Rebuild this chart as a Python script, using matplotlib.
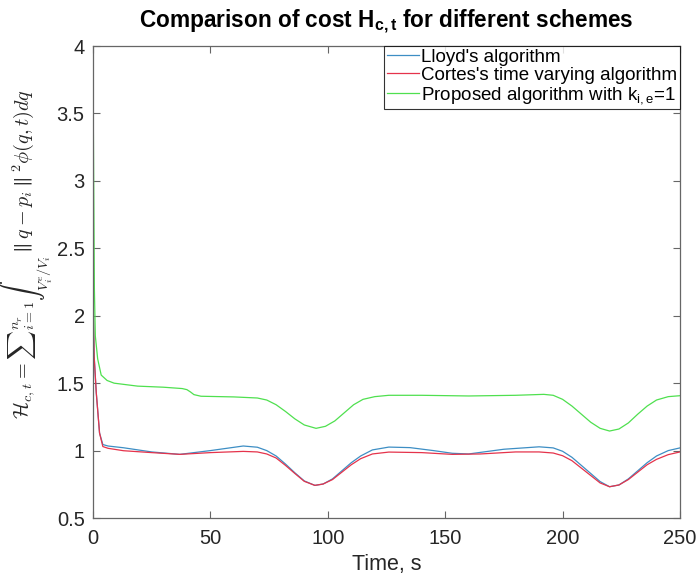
import matplotlib
matplotlib.use("Agg")
import matplotlib.pyplot as plt

plt.rcParams['font.family'] = ['Liberation Sans', 'DejaVu Sans']
plt.rcParams['mathtext.fontset'] = 'custom'
plt.rcParams['mathtext.rm'] = 'Liberation Sans'
plt.rcParams['mathtext.bf'] = 'Liberation Sans:bold'
plt.rcParams['mathtext.it'] = 'Liberation Sans:italic'

# ---- data ----
t_green = [0, 0.3, 0.6, 1.0, 2.0, 3.5, 6, 9, 19, 30, 38, 40, 41.5, 43, 46, 60, 70, 74, 78, 82,
           86, 90, 95, 99, 103, 107, 111, 115, 120, 126, 140, 160, 180, 192, 196, 200, 204, 208,
           212, 216, 220, 224, 228, 232, 236, 240, 245, 250]
h_green = [3.88, 3.0, 2.2, 1.85, 1.68, 1.56, 1.52, 1.50, 1.478, 1.47, 1.46, 1.452, 1.435, 1.415,
           1.403, 1.398, 1.39, 1.375, 1.34, 1.29, 1.235, 1.19, 1.165, 1.18, 1.22, 1.28, 1.34,
           1.38, 1.40, 1.41, 1.41, 1.405, 1.41, 1.417, 1.41, 1.38, 1.33, 1.27, 1.21, 1.165, 1.145,
           1.16, 1.205, 1.27, 1.33, 1.375, 1.40, 1.407]

t_blue = [0, 0.5, 1.4, 2.8, 4.2, 6.4, 13, 25, 37, 50, 64, 70, 74, 78, 82, 86, 90, 94.5, 98,
          102, 106, 110, 114, 119, 126, 135, 145, 153, 160, 175, 190, 196, 200, 204, 208, 212,
          216, 220, 224, 228, 232, 236, 240, 245, 250]
h_blue = [2.2, 1.7, 1.43, 1.13, 1.045, 1.034, 1.021, 0.99, 0.972, 1.0, 1.034, 1.025, 1.0, 0.96,
          0.90, 0.835, 0.775, 0.742, 0.752, 0.79, 0.85, 0.91, 0.96, 1.005, 1.026, 1.022, 1.0,
          0.98, 0.975, 1.01, 1.028, 1.02, 0.995, 0.95, 0.89, 0.83, 0.77, 0.732, 0.745, 0.79,
          0.85, 0.91, 0.96, 1.0, 1.02]

t_red = [0, 0.5, 1.4, 2.8, 4.2, 6.4, 13, 25, 37, 50, 64, 70, 74, 78, 82, 86, 90, 94.5, 98,
         102, 106, 110, 114, 119, 126, 140, 153, 165, 180, 190, 196, 200, 204, 208, 212, 216,
         220, 224, 228, 232, 236, 240, 245, 250]
h_red = [2.2, 1.7, 1.43, 1.13, 1.03, 1.017, 0.999, 0.985, 0.972, 0.985, 0.994, 0.99, 0.975,
         0.945, 0.89, 0.83, 0.772, 0.742, 0.752, 0.785, 0.84, 0.895, 0.94, 0.975, 0.989, 0.985,
         0.972, 0.975, 0.99, 0.99, 0.982, 0.962, 0.925, 0.87, 0.815, 0.76, 0.732, 0.745, 0.785,
         0.84, 0.895, 0.935, 0.97, 0.99]

labels = ["Lloyd's algorithm", "Cortes's time varying algorithm",
          r"Proposed algorithm with k$_{\mathrm{i,e}}$=1"]
xticks = [0, 50, 100, 150, 200, 250]
yticks = [0.5, 1, 1.5, 2, 2.5, 3, 3.5, 4]
ytick_labels = ["0.5", "1", "1.5", "2", "2.5", "3", "3.5", "4"]

fig = plt.figure(figsize=(6.98, 5.81), dpi=100)
ax = fig.add_axes([0.1332, 0.1084, 0.841, 0.8124])

ax.plot(t_blue, h_blue, color='#3d8ec4', lw=0.9, label=labels[0])
ax.plot(t_red, h_red, color='#e5334b', lw=0.9, label=labels[1])
ax.plot(t_green, h_green, color='#4fe04f', lw=0.9, label=labels[2])

ax.set_xlim(0, 250)
ax.set_ylim(0.5, 4)
ax.set_xticks(xticks)
ax.set_xticklabels([str(v) for v in xticks])
ax.set_yticks(yticks)
ax.set_yticklabels(ytick_labels)

for s in ax.spines.values():
    s.set_color('#666666')
    s.set_linewidth(0.9)
ax.tick_params(direction='in', length=5, width=0.8, colors='#666666', labelcolor='#262626',
               labelsize=14.5, top=True, right=True, pad=6)
ax.tick_params(axis='x', pad=8)

ax.set_xlabel("Time, s", fontsize=15.5, color='#262626', labelpad=4)
ax.set_ylabel(r"$\mathcal{H}_{c,t} = {\sum}_{i=1}^{n_r} {\int}_{V_i^e/V_i} \parallel q - p_i \parallel^2 \phi(q,t)dq$",
              fontsize=14.5, math_fontfamily='cm', color='#262626', va='center', ha='center')
ax.yaxis.set_label_coords(-0.113, 0.56)
ax.set_title(r"Comparison of cost H$_{\mathbf{c,t}}$ for different schemes",
             fontsize=16.3, fontweight='bold', pad=13)

leg = ax.legend(loc='upper right', fontsize=13.5, frameon=True, fancybox=False,
                edgecolor='black', borderaxespad=0, handlelength=1.7, handletextpad=0.1,
                borderpad=0.15, labelspacing=0.05)
leg.get_frame().set_linewidth(0.8)

fig.savefig("out.png", dpi=100)
